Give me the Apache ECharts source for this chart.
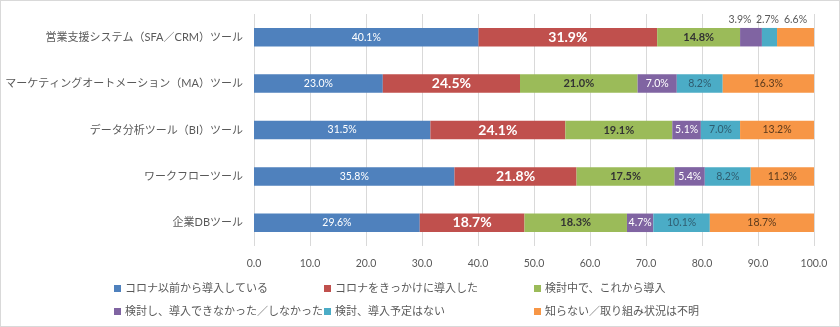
<!DOCTYPE html>
<html>
<head>
<meta charset="utf-8">
<script src="https://cdn.jsdelivr.net/npm/echarts@6/dist/echarts.min.js"></script>
<style>
  html, body { margin: 0; padding: 0; background: #fff; }
  #chart { width: 838px; height: 325px; border: 1px solid #d9d9d9; }
</style>
</head>
<body>
<div id="chart"></div>
<script>
// Tools (top to bottom)
const categories = [
  '営業支援システム（SFA／CRM）ツール',
  'マーケティングオートメーション（MA）ツール',
  'データ分析ツール（BI）ツール',
  'ワークフローツール',
  '企業DBツール'
];

const seriesNames = [
  'コロナ以前から導入している',
  'コロナをきっかけに導入した',
  '検討中で、これから導入',
  '検討し、導入できなかった／しなかった',
  '検討、導入予定はない',
  '知らない／取り組み状況は不明'
];

// Share of respondents (%) per tool
const before     = [40.1, 23.0, 31.5, 35.8, 29.6];
const covid      = [31.9, 24.5, 24.1, 21.8, 18.7];
const planning   = [14.8, 21.0, 19.1, 17.5, 18.3];
const declined   = [3.9, 7.0, 5.1, 5.4, 4.7];
const noPlan     = [2.7, 8.2, 7.0, 8.2, 10.1];
const unknown    = [6.6, 16.3, 13.2, 11.3, 18.7];

const xTicks = [0, 10, 20, 30, 40, 50, 60, 70, 80, 90, 100];

const values = [before, covid, planning, declined, noPlan, unknown];
const colors = ['#4F81BD', '#C0504D', '#9BBB59', '#8064A2', '#4BACC6', '#F79646'];
const labelStyles = [
  { color: '#ffffff', fontSize: 10.5, fontWeight: 'normal' },
  { color: '#ffffff', fontSize: 14, fontWeight: 'bold' },
  { color: '#333333', fontSize: 11, fontWeight: 'bold' },
  { color: '#ffffff', fontSize: 10.5, fontWeight: 'normal' },
  { color: '#2f5d70', fontSize: 10.5, fontWeight: 'normal' },
  { color: '#5b3a1c', fontSize: 10.5, fontWeight: 'normal' }
];
// thin segments of the first row get their label above the bar
const aboveOffset = [0, 0, 0, -11, -2, 0];

const FONT = "Lato, 'Noto Sans CJK JP', sans-serif";

const series = values.map((vals, si) => ({
  name: seriesNames[si],
  type: 'bar',
  stack: 'total',
  barWidth: 18.5,
  itemStyle: { color: colors[si] },
  label: {
    show: true,
    position: 'inside',
    fontFamily: FONT,
    formatter: p => p.value.toFixed(1) + '%',
    ...labelStyles[si]
  },
  data: vals.map((v, ci) => {
    if (ci === 0 && si >= 3) {
      return {
        value: v,
        label: {
          position: 'top',
          distance: 3,
          offset: [aboveOffset[si], 0],
          color: '#595959',
          fontWeight: 'normal',
          fontSize: 10.5
        }
      };
    }
    return v;
  })
}));

// legend laid out as a 3 x 2 grid
const legendPos = [
  [108, 277], [318, 277], [528, 277],
  [108, 300], [318, 300], [528, 300]
];
const legends = seriesNames.map((n, i) => ({
  data: [n],
  left: legendPos[i][0],
  top: legendPos[i][1],
  itemWidth: 7,
  itemHeight: 7,
  itemGap: 0,
  icon: 'rect',
  textStyle: { fontFamily: FONT, fontSize: 11, color: '#595959', padding: [0, 0, 0, -1] }
}));

const chart = echarts.init(document.getElementById('chart'), null, { renderer: 'canvas' });
chart.setOption({
  animation: false,
  textStyle: { fontFamily: FONT },
  grid: { left: 253, right: 25, top: 13, bottom: 80, containLabel: false, outerBoundsMode: 'none' },
  legend: legends,
  xAxis: {
    type: 'value',
    min: xTicks[0],
    max: xTicks[xTicks.length - 1],
    interval: 10,
    axisLine: { show: false },
    axisTick: { show: false },
    splitLine: { show: true, lineStyle: { color: '#d9d9d9', width: 1 } },
    axisLabel: {
      color: '#595959',
      fontSize: 10.5,
      fontFamily: FONT,
      margin: 12,
      formatter: v => v.toFixed(1)
    }
  },
  yAxis: {
    type: 'category',
    inverse: true,
    data: categories,
    axisLine: { show: false },
    axisTick: { show: false },
    axisLabel: { color: '#595959', fontSize: 11, fontFamily: FONT, margin: 11 }
  },
  series: series
});
</script>
</body>
</html>
